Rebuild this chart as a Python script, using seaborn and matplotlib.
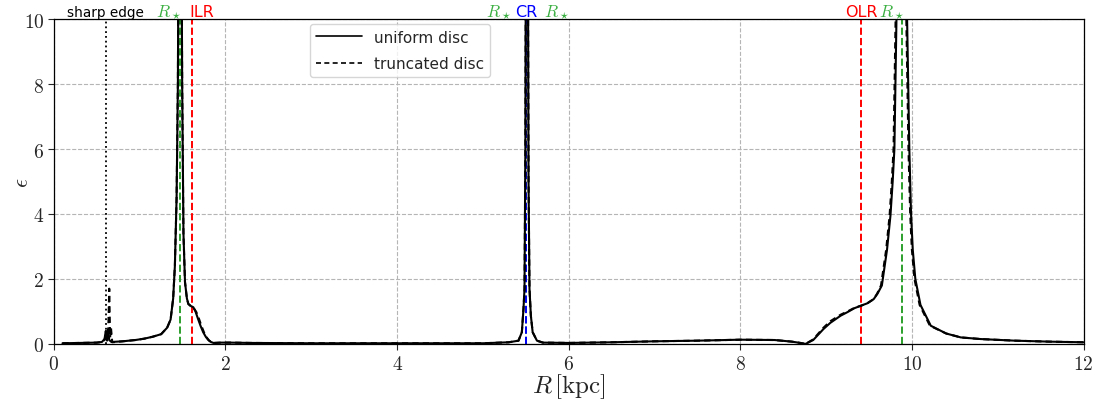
import numpy as np
import pandas as pd
import matplotlib
matplotlib.use("Agg")
import matplotlib.pyplot as plt
import seaborn as sns
from matplotlib.ticker import FuncFormatter
from matplotlib.transforms import blended_transform_factory

# ---- data ----
R_uniform = [0.10, 0.30, 0.50, 0.56, 0.59, 0.605, 0.615, 0.63, 0.645, 0.67, 0.80, 0.95,
             1.05, 1.15, 1.25, 1.32, 1.36, 1.39, 1.41, 1.43, 1.445, 1.455, 1.47, 1.485,
             1.495, 1.51, 1.528, 1.55, 1.567, 1.60, 1.625, 1.65, 1.68, 1.71, 1.74, 1.77,
             1.80, 1.83, 1.86, 1.95, 2.05, 2.30, 3.00, 4.00, 5.00, 5.30, 5.415, 5.454,
             5.473, 5.485, 5.495, 5.503, 5.512, 5.522, 5.532, 5.543, 5.559, 5.58, 5.63,
             5.70, 6.00, 6.50, 7.00, 7.50, 8.00, 8.40, 8.60, 8.70, 8.76, 8.85, 8.97, 9.05,
             9.17, 9.25, 9.33, 9.41, 9.48, 9.555, 9.60, 9.65, 9.71, 9.75, 9.776, 9.796, 9.82,
             9.86, 9.90, 9.944, 9.97, 9.99, 10.01, 10.04, 10.10, 10.22, 10.40, 10.57,
             10.80, 11.20, 11.60, 12.00]
eps_uniform = [0.02, 0.03, 0.04, 0.06, 0.15, 0.40, 0.12, 0.45, 0.12, 0.06, 0.08, 0.12,
               0.16, 0.22, 0.30, 0.50, 0.75, 1.40, 2.40, 4.50, 8.0, 14.0, 30.0, 14.0,
               8.0, 3.4, 1.9, 1.40, 1.23, 1.16, 1.13, 1.00, 0.77, 0.55, 0.36, 0.22,
               0.12, 0.06, 0.03, 0.04, 0.04, 0.03, 0.02, 0.02, 0.02, 0.05, 0.10, 0.36,
               1.08, 1.70, 6.0, 15.0, 40.0, 15.0, 5.0, 1.70, 0.87, 0.36, 0.10,
               0.04, 0.03, 0.05, 0.08, 0.10, 0.13, 0.12, 0.07, 0.03, 0.00, 0.12, 0.46, 0.65,
               0.87, 0.98, 1.10, 1.18, 1.25, 1.38, 1.55, 1.80, 2.90, 3.95, 5.0, 6.0, 10.0,
               25.0, 25.0, 10.0, 6.0, 4.0, 2.9, 2.0, 1.2, 0.56, 0.32, 0.20,
               0.15, 0.10, 0.07, 0.05]

R_truncated = [0.10, 0.30, 0.50, 0.56, 0.59, 0.605, 0.62, 0.632, 0.645, 0.655, 0.665, 0.68,
               0.80, 0.95, 1.05, 1.15, 1.25, 1.32, 1.36, 1.39, 1.41, 1.43, 1.445, 1.455,
               1.47, 1.485, 1.495, 1.51, 1.528, 1.55, 1.567, 1.60, 1.63, 1.66, 1.69, 1.72,
               1.75, 1.78, 1.81, 1.84, 1.87, 1.95, 2.05, 2.30, 3.00, 4.00, 5.00, 5.30,
               5.415, 5.454, 5.473, 5.485, 5.495, 5.503, 5.512, 5.522, 5.532, 5.543, 5.559,
               5.58, 5.63, 5.70, 6.00, 6.50, 7.00, 7.50, 8.00, 8.40, 8.60, 8.70, 8.76, 8.85,
               8.97, 9.05, 9.17, 9.25, 9.33, 9.41, 9.48, 9.555, 9.595, 9.64, 9.70, 9.74, 9.766,
               9.786, 9.81, 9.85, 9.89, 9.935, 9.96, 9.98, 10.00, 10.03, 10.09, 10.21,
               10.40, 10.57, 10.80, 11.20, 11.60, 12.00]
eps_truncated = [0.02, 0.03, 0.04, 0.06, 0.12, 0.30, 0.10, 0.25, 1.70, 0.20, 0.50, 0.05,
                 0.08, 0.12, 0.16, 0.22, 0.30, 0.50, 0.75, 1.40, 2.40, 4.50, 8.0, 14.0,
                 30.0, 14.0, 8.0, 3.4, 1.9, 1.40, 1.23, 1.15, 1.10, 0.98, 0.78, 0.55,
                 0.35, 0.20, 0.10, 0.05, 0.03, 0.04, 0.04, 0.03, 0.02, 0.02, 0.02, 0.05,
                 0.10, 0.36, 1.08, 1.70, 6.0, 15.0, 40.0, 15.0, 5.0, 1.70, 0.87,
                 0.36, 0.10, 0.04, 0.03, 0.05, 0.08, 0.10, 0.13, 0.12, 0.07, 0.03, 0.00, 0.14,
                 0.50, 0.70, 0.90, 1.00, 1.11, 1.18, 1.25, 1.38, 1.55, 1.80, 2.90, 3.95, 5.0,
                 6.0, 10.0, 25.0, 25.0, 10.0, 6.0, 4.0, 2.9, 2.0, 1.2, 0.56,
                 0.32, 0.20, 0.15, 0.10, 0.07, 0.05]

series_labels = ["uniform disc", "truncated disc"]

sharp_edge_R = 0.606
Rstar_R = [1.47, 5.50, 9.89]
ILR_R = 1.61
CR_R = 5.505
OLR_R = 9.41

x_ticks = [0, 2, 4, 6, 8, 10, 12]
y_ticks = [0, 2, 4, 6, 8, 10]

# ---- data frame ----
df = pd.concat([
    pd.DataFrame({"R": R_uniform, "eps": eps_uniform, "model": series_labels[0]}),
    pd.DataFrame({"R": R_truncated, "eps": eps_truncated, "model": series_labels[1]}),
], ignore_index=True)

sns.set_style("ticks")
plt.rcParams["mathtext.fontset"] = "cm"
plt.rcParams["font.family"] = ["DejaVu Sans"]

fig, ax = plt.subplots(figsize=(11.0, 4.02), dpi=100)
fig.subplots_adjust(left=0.049, right=0.985, top=0.95, bottom=0.142)

ax.grid(True, color="#b5b5b5", linestyle="--", linewidth=0.8)
ax.set_axisbelow(True)

# vertical markers
ax.axvline(sharp_edge_R, color="black", linestyle=":", linewidth=1.3)
for r in Rstar_R:
    ax.axvline(r, color="#2ca02c", linestyle="--", linewidth=1.4)
ax.axvline(ILR_R, color="red", linestyle="--", linewidth=1.4)
ax.axvline(OLR_R, color="red", linestyle="--", linewidth=1.4)
ax.axvline(CR_R, color="blue", linestyle="--", linewidth=1.4)

sns.lineplot(data=df, x="R", y="eps", style="model", style_order=series_labels,
             dashes={series_labels[0]: "", series_labels[1]: (3, 2)},
             color="black", linewidth=1.5, estimator=None, sort=True, ax=ax)

ax.set_xlim(0, 12)
ax.set_ylim(0, 10)
ax.set_xticks(x_ticks)
ax.set_yticks(y_ticks)
fmt = FuncFormatter(lambda v, p: f"${v:g}$")
ax.xaxis.set_major_formatter(fmt)
ax.yaxis.set_major_formatter(fmt)
ax.tick_params(labelsize=14, length=4, width=0.8, pad=3)
for s in ax.spines.values():
    s.set_visible(True)
    s.set_color("black")
    s.set_linewidth(0.9)

ax.set_xlabel(r"$R\,[\mathrm{kpc}]$", fontsize=18, labelpad=-1)
ax.set_ylabel(r"$\epsilon$", fontsize=16)
ax.yaxis.set_label_coords(-0.021, 0.5)

leg = ax.legend(loc="upper center", bbox_to_anchor=(0.336, 1.0), fontsize=11,
                frameon=True, handlelength=3.0, labelspacing=0.75,
                borderaxespad=0.3, fancybox=True)
leg.get_frame().set_edgecolor("#cccccc")
for h in leg.get_lines():
    h.set_linewidth(1.2)

# top labels
tr = blended_transform_factory(ax.transData, ax.transAxes)
ty = 1.01
green = "#3cb043"
kw = dict(transform=tr, va="baseline", fontsize=11.5)
mk = dict(transform=tr, va="baseline", fontsize=12.5, color=green)
ax.text(sharp_edge_R, ty, "sharp edge", ha="center", color="black",
        transform=tr, va="baseline", fontsize=9.8)
ax.text(1.49, ty, r"$R_\star$", ha="right", **mk)
ax.text(1.58, ty, "ILR", ha="left", color="red", **kw)
ax.text(5.33, ty, r"$R_\star$", ha="right", **mk)
ax.text(CR_R, ty, "CR", ha="center", color="blue", **kw)
ax.text(5.71, ty, r"$R_\star$", ha="left", **mk)
ax.text(OLR_R, ty, "OLR", ha="center", color="red", **kw)
ax.text(9.91, ty, r"$R_\star$", ha="right", **mk)

fig.savefig("out.png", dpi=100)
